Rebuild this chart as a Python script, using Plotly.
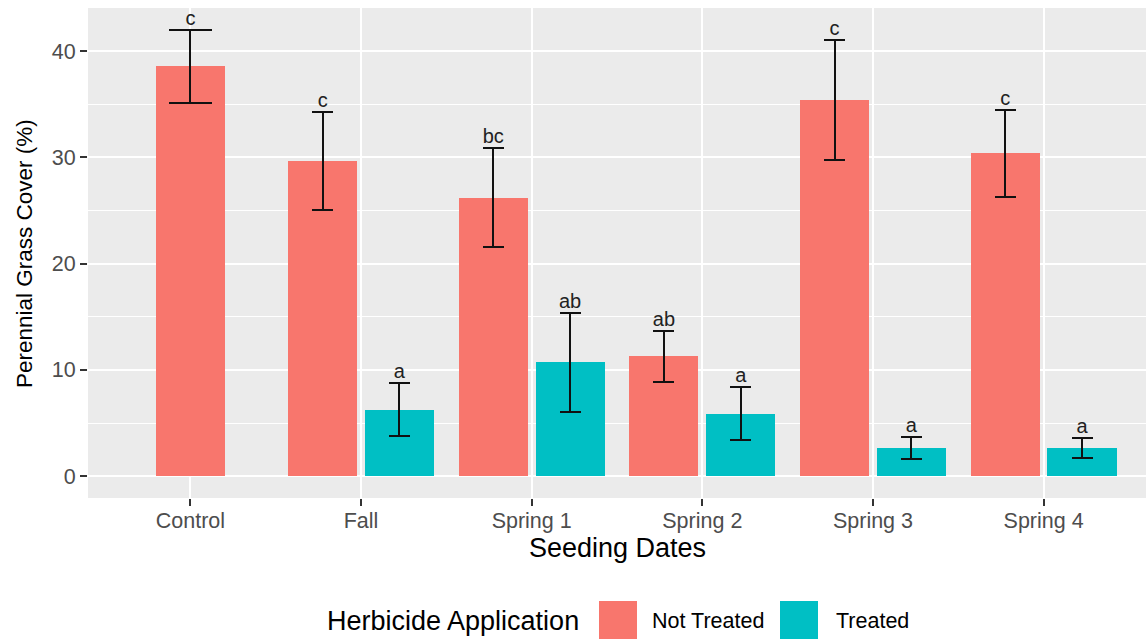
import plotly.graph_objects as go

# Seeding date categories and group summaries (mean cover % and standard error)
categories = ["Control", "Fall", "Spring 1", "Spring 2", "Spring 3", "Spring 4"]
not_treated_mean = [38.55, 29.62, 26.2, 11.3, 35.4, 30.4]
not_treated_se = [3.4, 4.6, 4.65, 2.4, 5.65, 4.1]
not_treated_letters = ["c", "c", "bc", "ab", "c", "c"]
treated_mean = [None, 6.25, 10.7, 5.9, 2.65, 2.65]
treated_se = [None, 2.5, 4.7, 2.45, 1.0, 0.92]
treated_letters = [None, "a", "ab", "a", "a", "a"]

NT_COLOR = "#F8766D"
T_COLOR = "#00BFC4"
BAR_W = 0.405
OFFSET = 0.225

W, H = 1148, 639
ML, MR, MT, MB = 88, 2, 8, 141
PW, PH = W - ML - MR, H - MT - MB


def px_x(x):
    return (x - ML) / PW


def px_y(y):
    return (H - MB - y) / PH


# dodge positions: a lone bar in a category stays centred on the tick
nt_x, t_x = [], []
for i in range(len(categories)):
    both = treated_mean[i] is not None
    nt_x.append(i - OFFSET if both else i)
    t_x.append(i + OFFSET if both else None)

fig = go.Figure()

err_style = dict(type="data", symmetric=True, color="#111111", thickness=2)

# Not treated bars: single-bar categories get wider caps
single = [i for i in range(len(categories)) if t_x[i] is None]
paired = [i for i in range(len(categories)) if t_x[i] is not None]
for idx, cap in ((single, 21.5), (paired, 10.5)):
    fig.add_trace(go.Bar(
        x=[nt_x[i] for i in idx],
        y=[not_treated_mean[i] for i in idx],
        width=BAR_W,
        marker=dict(color=NT_COLOR, line=dict(width=0)),
        error_y=dict(array=[not_treated_se[i] for i in idx], width=cap, **err_style),
        name="Not Treated", showlegend=False,
    ))

fig.add_trace(go.Bar(
    x=[t_x[i] for i in paired],
    y=[treated_mean[i] for i in paired],
    width=BAR_W,
    marker=dict(color=T_COLOR, line=dict(width=0)),
    error_y=dict(array=[treated_se[i] for i in paired], width=10.5, **err_style),
    name="Treated", showlegend=False,
))

# significance letters above the error bars
lx, ly, lt = [], [], []
for i in range(len(categories)):
    lx.append(nt_x[i]); ly.append(not_treated_mean[i] + not_treated_se[i]); lt.append(not_treated_letters[i])
    if t_x[i] is not None:
        lx.append(t_x[i]); ly.append(treated_mean[i] + treated_se[i]); lt.append(treated_letters[i])
fig.add_trace(go.Scatter(
    x=lx, y=ly, text=lt, mode="text", textposition="top center",
    textfont=dict(family="Liberation Sans, Arial, sans-serif", size=20, color="#222222"),
    showlegend=False, hoverinfo="skip",
))

font_fam = "Liberation Sans, Arial, Helvetica, sans-serif"

fig.update_layout(
    width=W, height=H,
    margin=dict(l=ML, r=MR, t=MT, b=MB, autoexpand=False),
    paper_bgcolor="white", plot_bgcolor="#EBEBEB",
    font=dict(family=font_fam, color="black"),
    bargap=0, showlegend=False,
    xaxis=dict(
        range=[-0.6, 5.6], tickmode="array", tickvals=list(range(len(categories))),
        ticktext=categories, showgrid=True, gridcolor="white", gridwidth=2,
        zeroline=False, ticks="outside", ticklen=7, tickwidth=1.5, tickcolor="#333333",
        tickfont=dict(size=21.5, color="#4D4D4D"), showline=False, automargin=False,
        ticklabelstandoff=-4,
    ),
    yaxis=dict(
        range=[-2.05, 44.05], tickmode="array", tickvals=[0, 10, 20, 30, 40],
        showgrid=True, gridcolor="white", gridwidth=2, zeroline=False,
        minor=dict(tickvals=[5, 15, 25, 35], showgrid=True, gridcolor="white", gridwidth=1, ticks=""),
        ticks="outside", ticklen=7, tickwidth=1.5, tickcolor="#333333",
        tickfont=dict(size=21.5, color="#4D4D4D"), showline=False, automargin=False,
    ),
)

annotations = [
    dict(text="Seeding Dates", x=px_x((ML + W - MR) / 2), y=px_y(548), xanchor="center",
         yanchor="middle", font=dict(size=27, color="black")),
    dict(text="Perennial Grass Cover (%)", x=px_x(24), y=px_y(254), xanchor="center",
         yanchor="middle", textangle=-90, font=dict(size=22.5, color="black")),
    dict(text="Herbicide Application", x=px_x(325), y=px_y(621), xanchor="left",
         yanchor="middle", font=dict(size=27, color="black")),
    dict(text="Not Treated", x=px_x(650), y=px_y(621), xanchor="left",
         yanchor="middle", font=dict(size=21.5, color="black")),
    dict(text="Treated", x=px_x(834), y=px_y(621), xanchor="left",
         yanchor="middle", font=dict(size=21.5, color="black")),
]
for a in annotations:
    a.update(xref="paper", yref="paper", showarrow=False)
fig.update_layout(annotations=annotations)

# legend keys
for x0, col in ((599, NT_COLOR), (780, T_COLOR)):
    fig.add_shape(type="rect", xref="paper", yref="paper",
                  x0=px_x(x0), x1=px_x(x0 + 38), y0=px_y(601), y1=px_y(639),
                  fillcolor=col, line=dict(width=0), layer="above")

fig.write_html("out.html")
